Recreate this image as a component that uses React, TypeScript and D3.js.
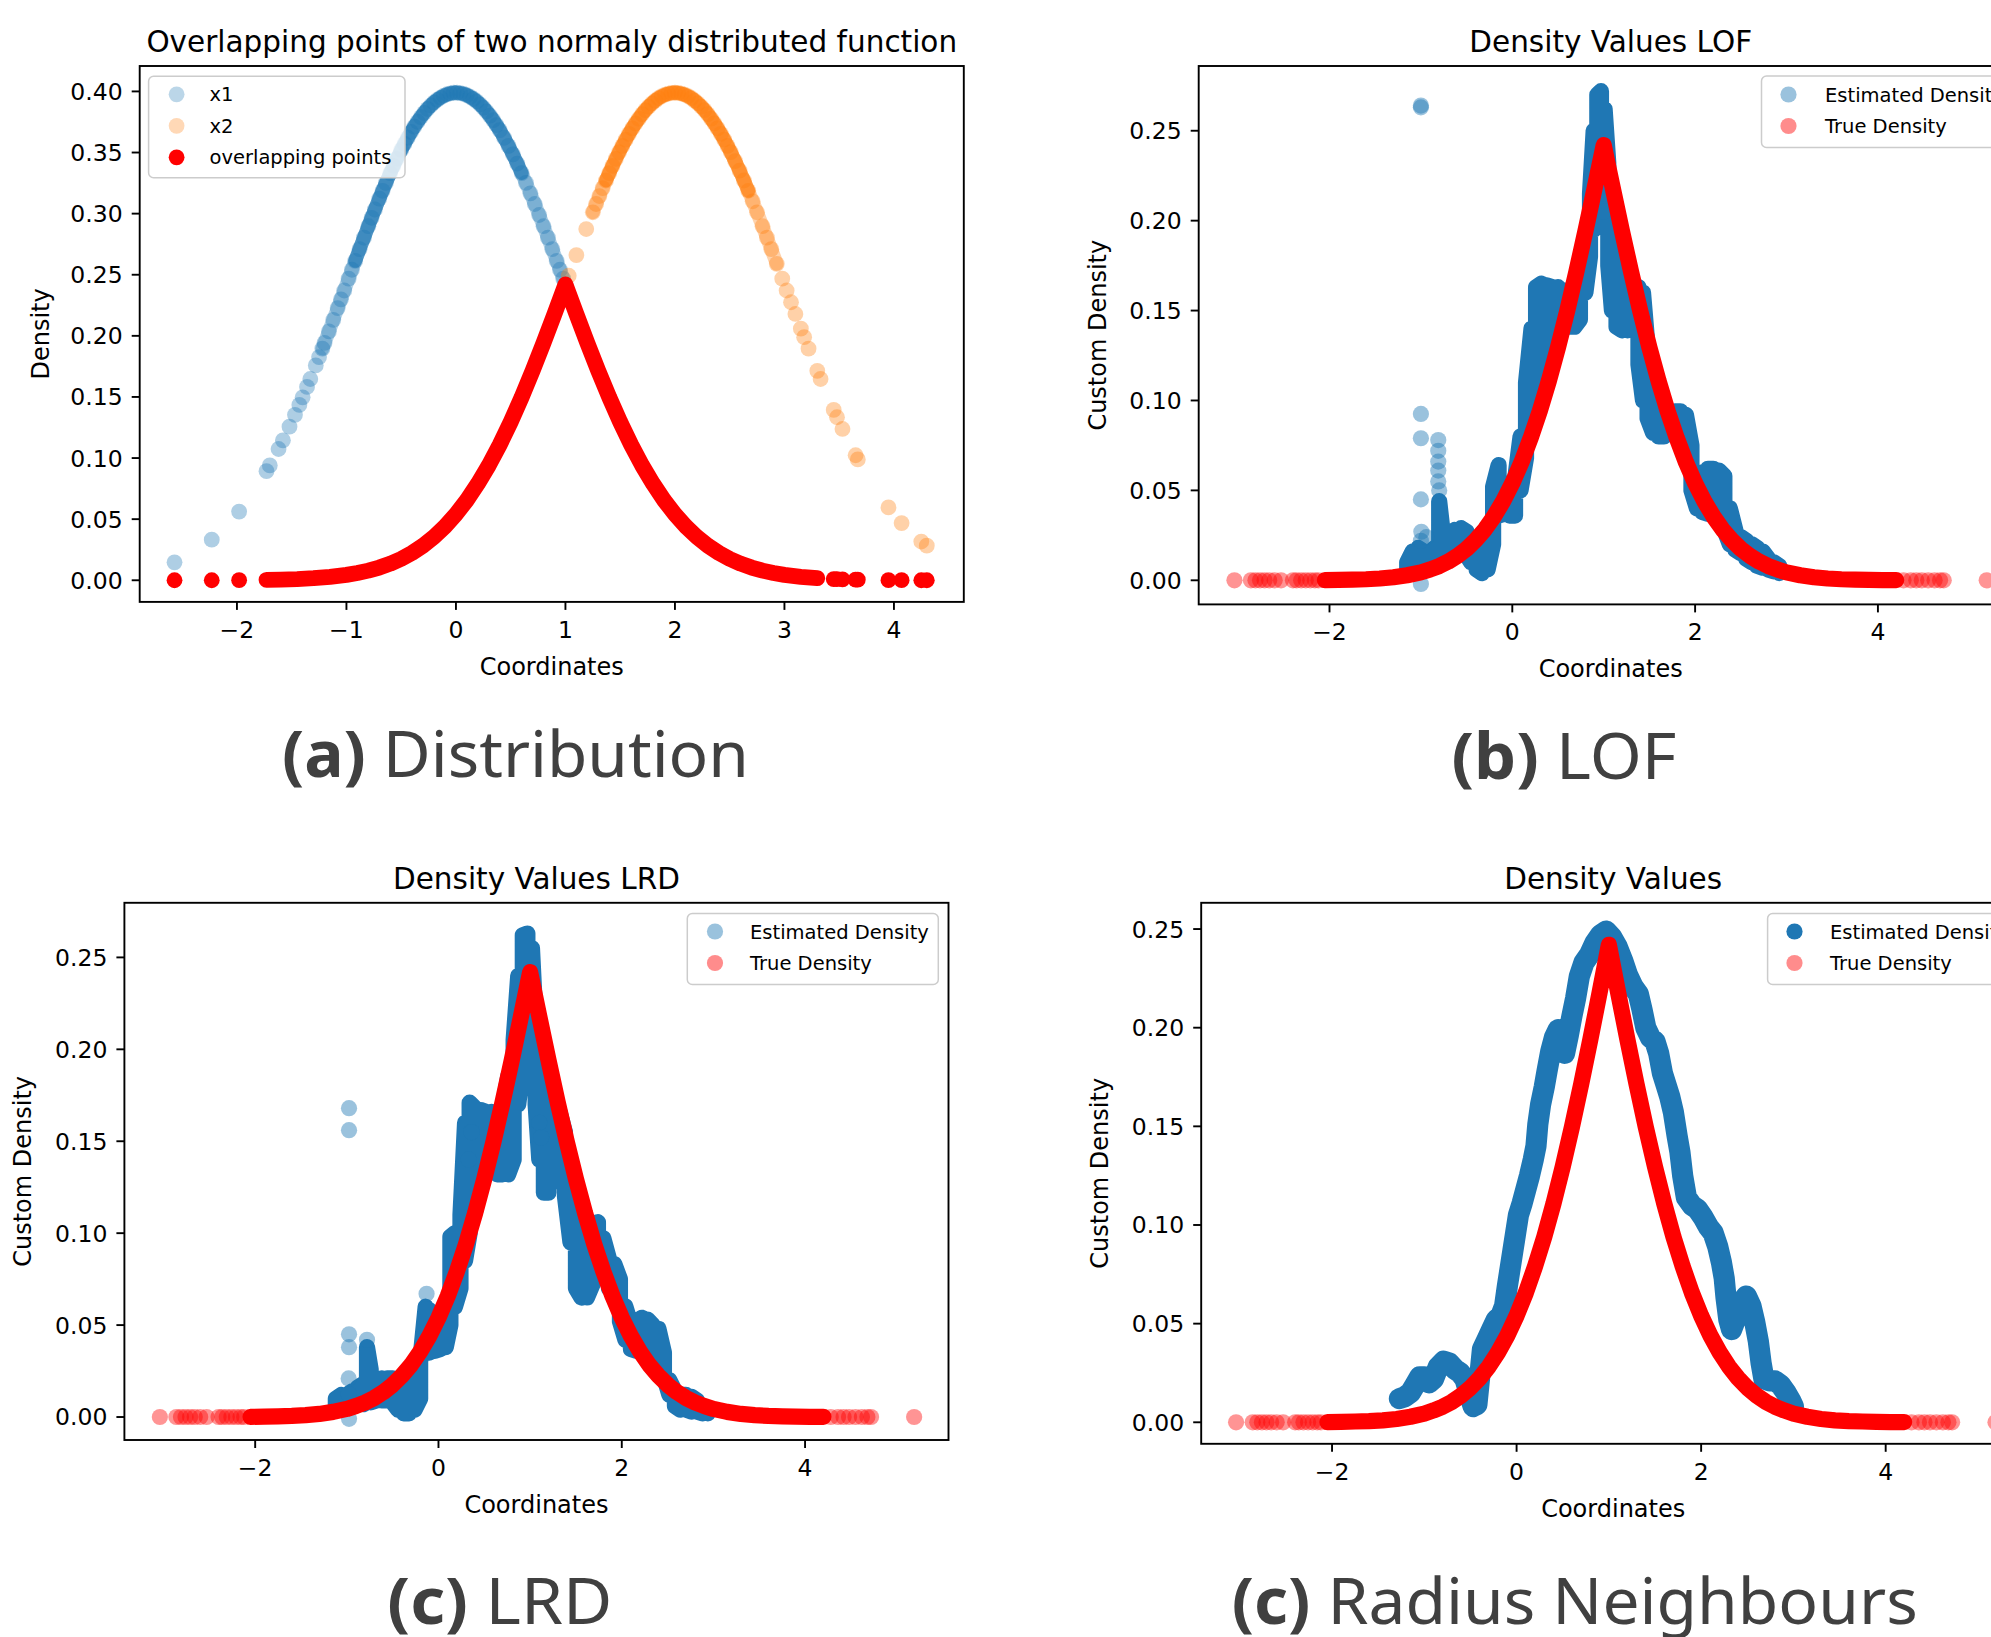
import React from "react";
import * as d3 from "d3";

// ---------- Panel (a): two normal distributions ----------
const X1_X = [-2.57,-2.23,-1.98,-1.73,-1.70,-1.62,-1.58,-1.52,-1.47,-1.43,-1.40,-1.36,-1.33,-1.28,-1.25,-1.22,-1.20,-1.16,-1.12,-1.08,-1.05,-1.02,-0.98,-0.95,-0.92,-0.88,-0.84,-0.80,-0.77,-0.74,-0.70,-0.67,-0.64,-0.60,-0.57,-0.54,-0.50,-0.47,-0.44,-0.41,-0.38,-0.35,-0.32,-0.29,-0.26,-0.23,-0.20,-0.17,-0.14,-0.11,-0.08,-0.05,-0.02,0.01,0.04,0.07,0.10,0.13,0.16,0.19,0.22,0.25,0.28,0.31,0.34,0.37,0.40,0.44,0.48,0.52,0.56,0.60,0.64,0.68,0.72,0.76,0.80,0.84,0.88,0.92,0.95,0.98,1.00];
const X1_Y = [0.0147,0.0332,0.0562,0.0893,0.0940,0.1074,0.1145,0.1257,0.1354,0.1435,0.1497,0.1582,0.1647,0.1758,0.1826,0.1895,0.1942,0.2036,0.2131,0.2227,0.2299,0.2371,0.2468,0.2541,0.2613,0.2709,0.2803,0.2897,0.2966,0.3034,0.3123,0.3187,0.3251,0.3332,0.3391,0.3448,0.3521,0.3572,0.3621,0.3668,0.3712,0.3752,0.3790,0.3825,0.3857,0.3885,0.3910,0.3932,0.3950,0.3965,0.3977,0.3984,0.3989,0.3989,0.3986,0.3980,0.3970,0.3956,0.3939,0.3918,0.3894,0.3867,0.3836,0.3802,0.3765,0.3725,0.3683,0.3621,0.3555,0.3485,0.3410,0.3332,0.3251,0.3166,0.3079,0.2989,0.2897,0.2803,0.2709,0.2613,0.2541,0.2468,0.2420];

const X2_X = [1.03,1.10,1.19,1.25,1.28,1.31,1.34,1.37,1.40,1.43,1.46,1.49,1.52,1.55,1.58,1.61,1.64,1.67,1.70,1.73,1.76,1.79,1.82,1.85,1.88,1.91,1.94,1.97,2.00,2.03,2.06,2.09,2.12,2.15,2.18,2.21,2.24,2.27,2.30,2.33,2.36,2.39,2.42,2.45,2.48,2.51,2.55,2.59,2.63,2.67,2.71,2.75,2.80,2.84,2.88,2.93,2.98,3.02,3.06,3.10,3.15,3.18,3.22,3.30,3.33,3.45,3.48,3.53,3.65,3.67,3.95,4.07,4.25,4.30];
const X2_Y = [0.2492,0.2661,0.2874,0.3011,0.3079,0.3144,0.3209,0.3271,0.3332,0.3391,0.3448,0.3503,0.3555,0.3605,0.3653,0.3697,0.3739,0.3778,0.3814,0.3847,0.3876,0.3902,0.3925,0.3945,0.3961,0.3973,0.3982,0.3988,0.3989,0.3988,0.3982,0.3973,0.3961,0.3945,0.3925,0.3902,0.3876,0.3847,0.3814,0.3778,0.3739,0.3697,0.3653,0.3605,0.3555,0.3503,0.3429,0.3352,0.3271,0.3187,0.3101,0.3011,0.2897,0.2803,0.2709,0.2589,0.2468,0.2371,0.2275,0.2179,0.2059,0.1989,0.1895,0.1714,0.1647,0.1394,0.1334,0.1238,0.1023,0.0989,0.0596,0.0468,0.0317,0.0283];

const OVL_X = [-1.73,-1.6,-1.45,-1.3,-1.15,-1.0,-0.9,-0.8,-0.7,-0.6,-0.5,-0.4,-0.3,-0.2,-0.1,0,0.1,0.2,0.3,0.4,0.5,0.6,0.7,0.8,0.9,1.0,1.1,1.2,1.3,1.4,1.5,1.6,1.7,1.8,1.9,2.0,2.1,2.2,2.3,2.4,2.5,2.6,2.7,2.8,2.9,3.0,3.15,3.3];
const OVL_Y = [0.0004,0.0006,0.0010,0.0017,0.0028,0.0044,0.0060,0.0079,0.0104,0.0136,0.0175,0.0224,0.0283,0.0355,0.0440,0.0540,0.0656,0.0790,0.0940,0.1109,0.1295,0.1497,0.1714,0.1942,0.2179,0.2420,0.2179,0.1942,0.1714,0.1497,0.1295,0.1109,0.0940,0.0790,0.0656,0.0540,0.0440,0.0355,0.0283,0.0224,0.0175,0.0136,0.0104,0.0079,0.0060,0.0044,0.0028,0.0017];
const OVL_SPARSE_X = [-2.57,-2.23,-1.98,3.45,3.48,3.53,3.65,3.67,3.95,4.07,4.25,4.30];
const OVL_SPARSE_Y = [0,0,0.0001,0.0010,0.0009,0.0008,0.0005,0.0005,0.0001,0.0001,0,0];

// ---------- True density (panels b, c, d) ----------
const TRUE_X = [-2.05,-1.9,-1.75,-1.6,-1.45,-1.3,-1.15,-1.0,-0.9,-0.8,-0.7,-0.6,-0.5,-0.4,-0.3,-0.2,-0.1,0,0.1,0.2,0.3,0.4,0.5,0.6,0.7,0.8,0.9,1.0,1.1,1.2,1.3,1.4,1.5,1.6,1.7,1.8,1.9,2.0,2.1,2.2,2.3,2.4,2.5,2.6,2.7,2.8,2.9,3.0,3.15,3.3,3.45,3.6,3.75,3.9,4.05,4.2];
const TRUE_Y = [0.0001,0.0002,0.0004,0.0006,0.0010,0.0017,0.0028,0.0044,0.0060,0.0079,0.0104,0.0136,0.0175,0.0224,0.0283,0.0355,0.0440,0.0540,0.0656,0.0790,0.0940,0.1109,0.1295,0.1497,0.1714,0.1942,0.2179,0.2420,0.2179,0.1942,0.1714,0.1497,0.1295,0.1109,0.0940,0.0790,0.0656,0.0540,0.0440,0.0355,0.0283,0.0224,0.0175,0.0136,0.0104,0.0079,0.0060,0.0044,0.0028,0.0017,0.0010,0.0006,0.0004,0.0002,0.0001,0.0001];
const TRUE_SPARSE_X = [-3.04,-2.86,-2.81,-2.76,-2.71,-2.66,-2.60,-2.53,-2.40,-2.36,-2.31,-2.26,-2.21,-2.16,-2.12,4.28,4.36,4.42,4.48,4.55,4.62,4.68,4.72,5.19];
const TRUE_SPARSE_Y = [0,0,0,0,0,0,0,0,0,0,0,0,0,0,0,0,0,0,0,0,0,0,0,0];

// ---------- LOF estimated density (panel b) ----------
const LOF_X = [-1.15,-1.09,-1.03,-0.97,-0.91,-0.85,-0.80,-0.76,-0.70,-0.63,-0.56,-0.50,-0.45,-0.39,-0.33,-0.27,-0.21,-0.15,-0.09,-0.03,0.03,0.09,0.15,0.21,0.26,0.32,0.38,0.44,0.50,0.56,0.62,0.68,0.74,0.80,0.85,0.89,0.93,0.97,1.01,1.05,1.09,1.14,1.20,1.26,1.32,1.38,1.43,1.48,1.54,1.60,1.66,1.72,1.78,1.84,1.90,1.96,2.02,2.08,2.14,2.20,2.26,2.32,2.38,2.44,2.50,2.56,2.62,2.68,2.74,2.80,2.86,2.92];
const LOF_LO = [0.006,0.007,0.008,0.009,0.010,0.010,0.015,0.013,0.013,0.014,0.016,0.014,0.010,0.006,0.004,0.006,0.020,0.036,0.037,0.036,0.036,0.050,0.068,0.085,0.098,0.110,0.120,0.135,0.142,0.141,0.141,0.141,0.145,0.160,0.180,0.195,0.200,0.200,0.200,0.175,0.150,0.141,0.139,0.139,0.140,0.120,0.100,0.090,0.082,0.080,0.080,0.082,0.085,0.082,0.072,0.050,0.040,0.038,0.037,0.036,0.034,0.028,0.020,0.017,0.015,0.012,0.010,0.008,0.007,0.006,0.005,0.004];
const LOF_HI = [0.010,0.016,0.018,0.016,0.015,0.018,0.044,0.026,0.026,0.028,0.029,0.027,0.022,0.019,0.018,0.022,0.052,0.064,0.054,0.052,0.056,0.080,0.110,0.140,0.163,0.165,0.164,0.163,0.163,0.160,0.160,0.165,0.175,0.190,0.215,0.250,0.270,0.272,0.262,0.232,0.200,0.180,0.165,0.160,0.158,0.163,0.160,0.130,0.100,0.092,0.090,0.092,0.094,0.094,0.092,0.075,0.055,0.060,0.062,0.062,0.061,0.058,0.040,0.028,0.024,0.022,0.020,0.018,0.016,0.012,0.010,0.008];
const LOF_OUT_X = [-1.0,-1.0,-1.0,-1.0,-1.0,-0.995,-1.0,-1.0,-0.81,-0.81,-0.81,-0.81,-0.81,-0.80,-0.94,1.0,0.99];
const LOF_OUT_Y = [0.263,0.264,0.0925,0.079,0.045,0.027,0.022,-0.002,0.078,0.072,0.066,0.061,0.055,0.050,0.024,0.205,0.215];

// ---------- LRD estimated density (panel c) ----------
const LRD_X = [-1.12,-1.06,-1.00,-0.94,-0.88,-0.82,-0.78,-0.74,-0.68,-0.62,-0.56,-0.50,-0.44,-0.38,-0.32,-0.26,-0.20,-0.14,-0.10,-0.04,0.02,0.08,0.13,0.18,0.24,0.29,0.34,0.40,0.46,0.52,0.58,0.64,0.70,0.76,0.82,0.87,0.92,0.97,1.02,1.06,1.10,1.15,1.20,1.26,1.32,1.38,1.44,1.50,1.56,1.62,1.68,1.74,1.80,1.86,1.92,1.98,2.04,2.10,2.16,2.22,2.28,2.34,2.40,2.46,2.52,2.58,2.64,2.70,2.76,2.82,2.88,2.94];
const LRD_LO = [0.004,0.005,0.005,0.006,0.007,0.007,0.008,0.008,0.009,0.009,0.009,0.008,0.004,0.002,0.002,0.004,0.010,0.036,0.035,0.036,0.037,0.038,0.050,0.060,0.070,0.085,0.100,0.112,0.125,0.133,0.140,0.132,0.132,0.132,0.140,0.170,0.190,0.190,0.190,0.170,0.140,0.122,0.122,0.128,0.130,0.120,0.095,0.070,0.065,0.065,0.072,0.077,0.077,0.070,0.068,0.052,0.042,0.037,0.036,0.036,0.036,0.036,0.033,0.022,0.012,0.006,0.004,0.004,0.003,0.003,0.002,0.002];
const LRD_HI = [0.010,0.012,0.012,0.014,0.016,0.018,0.038,0.026,0.020,0.021,0.021,0.021,0.019,0.017,0.018,0.022,0.030,0.060,0.058,0.052,0.052,0.055,0.098,0.100,0.110,0.160,0.171,0.168,0.167,0.166,0.166,0.165,0.168,0.185,0.205,0.240,0.262,0.263,0.255,0.215,0.195,0.180,0.170,0.168,0.166,0.155,0.120,0.110,0.105,0.104,0.105,0.106,0.097,0.086,0.083,0.075,0.060,0.050,0.052,0.054,0.053,0.050,0.048,0.035,0.020,0.014,0.012,0.012,0.011,0.009,0.006,0.004];
const LRD_OUT_X = [-0.976,-0.976,-0.976,-0.976,-0.98,-0.98,-0.976,-0.78,-0.13,1.10,1.12,0.36,0.33];
const LRD_OUT_Y = [0.168,0.156,0.045,0.038,0.021,0.0125,-0.001,0.042,0.067,0.160,0.152,0.155,0.140];

// ---------- Radius neighbours estimated density (panel d) ----------
const RN_X = [-1.27,-1.21,-1.15,-1.10,-1.05,-1.00,-0.95,-0.90,-0.85,-0.79,-0.73,-0.67,-0.61,-0.56,-0.51,-0.47,-0.43,-0.40,-0.37,-0.32,-0.27,-0.22,-0.17,-0.13,-0.10,-0.07,-0.04,-0.01,0.02,0.06,0.10,0.14,0.18,0.21,0.23,0.26,0.30,0.33,0.37,0.41,0.45,0.49,0.52,0.56,0.60,0.64,0.68,0.73,0.79,0.85,0.91,0.97,1.03,1.09,1.15,1.20,1.26,1.32,1.36,1.40,1.45,1.50,1.54,1.58,1.62,1.66,1.70,1.74,1.77,1.80,1.84,1.90,1.96,2.02,2.08,2.13,2.18,2.22,2.25,2.27,2.30,2.33,2.38,2.44,2.49,2.54,2.58,2.62,2.65,2.68,2.74,2.80,2.86,2.92,2.97,3.00];
const RN_Y = [0.012,0.013,0.015,0.019,0.023,0.023,0.020,0.022,0.028,0.031,0.030,0.027,0.025,0.022,0.014,0.008,0.009,0.023,0.037,0.042,0.047,0.052,0.054,0.059,0.069,0.078,0.087,0.096,0.105,0.111,0.118,0.125,0.133,0.140,0.151,0.161,0.170,0.178,0.188,0.195,0.199,0.192,0.187,0.196,0.206,0.215,0.226,0.233,0.237,0.243,0.247,0.249,0.246,0.241,0.234,0.227,0.221,0.217,0.209,0.200,0.195,0.193,0.187,0.177,0.171,0.165,0.157,0.145,0.137,0.125,0.114,0.110,0.108,0.104,0.099,0.096,0.089,0.081,0.073,0.063,0.052,0.047,0.053,0.061,0.064,0.059,0.051,0.041,0.030,0.022,0.021,0.021,0.019,0.015,0.011,0.008];

// ---------- Ticks ----------
const A_X_TICKS = [-2, -1, 0, 1, 2, 3, 4];
const A_Y_TICKS = [0, 0.05, 0.1, 0.15, 0.2, 0.25, 0.3, 0.35, 0.4];
const D_X_TICKS = [-2, 0, 2, 4];
const D_Y_TICKS = [0, 0.05, 0.1, 0.15, 0.2, 0.25];

const BLUE = "#1f77b4";
const ORANGE = "#ff7f0e";
const RED = "#ff0000";
const FONT = "DejaVu Sans, Verdana, sans-serif";

type Box = { x: number; y: number; w: number; h: number };

const fmtX = (t: number) => (t < 0 ? "\u2212" + Math.abs(t) : String(t));
const fmtY = (t: number) => t.toFixed(2);

const zip = (xs: number[], ys: number[]) => xs.map((x, i) => [x, ys[i]] as [number, number]);
const within = (pts: [number, number][], a: number, b: number) => pts.filter((p) => p[0] >= a && p[0] <= b);
const zigzag = (xs: number[], lo: number[], hi: number[]) => {
  const pts: [number, number][] = [];
  xs.forEach((x, i) => {
    if (i % 2 === 0) {
      pts.push([x, lo[i]], [x, hi[i]]);
    } else {
      pts.push([x, hi[i]], [x, lo[i]]);
    }
  });
  return pts;
};

function Frame(props: {
  id: string;
  box: Box;
  xs: d3.ScaleLinear<number, number>;
  ys: d3.ScaleLinear<number, number>;
  xTicks: number[];
  yTicks: number[];
  title: string;
  ylabel: string;
  ylabelX: number;
  children: React.ReactNode;
}) {
  const { id, box, xs, ys, xTicks, yTicks, title, ylabel, ylabelX } = props;
  const bottom = box.y + box.h;
  return (
    <g fontFamily={FONT}>
      <defs>
        <clipPath id={id}>
          <rect x={box.x} y={box.y} width={box.w} height={box.h} />
        </clipPath>
      </defs>
      <g clipPath={`url(#${id})`}>{props.children}</g>
      <rect x={box.x} y={box.y} width={box.w} height={box.h} fill="none" stroke="#000" strokeWidth={1.9} />
      {xTicks.map((t) => (
        <g key={"x" + t}>
          <line x1={xs(t)} x2={xs(t)} y1={bottom} y2={bottom + 8} stroke="#000" strokeWidth={1.9} />
          <text x={xs(t)} y={bottom + 36} textAnchor="middle" fontSize={23.5} fill="#000">
            {fmtX(t)}
          </text>
        </g>
      ))}
      {yTicks.map((t) => (
        <g key={"y" + t}>
          <line x1={box.x - 8} x2={box.x} y1={ys(t)} y2={ys(t)} stroke="#000" strokeWidth={1.9} />
          <text x={box.x - 17} y={ys(t)} dy="0.36em" textAnchor="end" fontSize={23.5} fill="#000">
            {fmtY(t)}
          </text>
        </g>
      ))}
      <text x={box.x + box.w / 2} y={box.y - 14} textAnchor="middle" fontSize={29.5} fill="#000">
        {title}
      </text>
      <text x={box.x + box.w / 2} y={bottom + 73} textAnchor="middle" fontSize={24} fill="#000">
        Coordinates
      </text>
      <text
        transform={`translate(${ylabelX},${box.y + box.h / 2}) rotate(-90)`}
        textAnchor="middle"
        fontSize={24}
        fill="#000"
      >
        {ylabel}
      </text>
    </g>
  );
}

function Legend(props: {
  x: number;
  y: number;
  w: number;
  h: number;
  markerX: number;
  textX: number;
  rows: number[];
  r: number;
  items: { label: string; color: string; opacity: number }[];
}) {
  const { x, y, w, h, markerX, textX, rows, r, items } = props;
  return (
    <g fontFamily={FONT}>
      <rect x={x} y={y} width={w} height={h} rx={5} fill="#fff" fillOpacity={0.8} stroke="#cccccc" strokeWidth={1.5} />
      {items.map((it, i) => (
        <g key={it.label}>
          <circle cx={markerX} cy={rows[i]} r={r} fill={it.color} fillOpacity={it.opacity} />
          <text x={textX} y={rows[i]} dy="0.36em" fontSize={19.5} fill="#000">
            {it.label}
          </text>
        </g>
      ))}
    </g>
  );
}

function Caption(props: { x: number; y: number; len: number; tag: string; text: string }) {
  return (
    <text
      x={props.x}
      y={props.y}
      textLength={props.len}
      lengthAdjust="spacingAndGlyphs"
      fontFamily="Noto Sans, Open Sans, sans-serif"
      fontSize={64}
      fill="#404040"
    >
      <tspan fontWeight="bold">{props.tag}</tspan>
      {" " + props.text}
    </text>
  );
}

function TruePoints(props: { xs: any; ys: any; r: number }) {
  const { xs, ys, r } = props;
  const line = d3.line<[number, number]>().x((d) => xs(d[0])).y((d) => ys(d[1]));
  return (
    <g>
      <path
        d={line(zip(TRUE_X, TRUE_Y)) || ""}
        fill="none"
        stroke={RED}
        strokeWidth={2 * r}
        strokeLinejoin="round"
        strokeLinecap="round"
      />
      {TRUE_SPARSE_X.map((x, i) => (
        <circle key={i} cx={xs(x)} cy={ys(TRUE_SPARSE_Y[i])} r={r} fill={RED} fillOpacity={0.42} />
      ))}
    </g>
  );
}

export default function App() {
  const RA = 7.9;
  const RB = 8.1;

  // Panel a
  const boxA: Box = { x: 139.7, y: 66, w: 824.1, h: 535.9 };
  const xa = d3.scaleLinear().domain([-2.888, 4.638]).range([boxA.x, boxA.x + boxA.w]);
  const ya = d3.scaleLinear().domain([-0.0177, 0.4208]).range([boxA.y + boxA.h, boxA.y]);
  const lineA = d3.line<[number, number]>().x((d) => xa(d[0])).y((d) => ya(d[1]));
  const x1pts = zip(X1_X, X1_Y);
  const x2pts = zip(X2_X, X2_Y);

  // Panel b
  const boxB: Box = { x: 1198.7, y: 66, w: 824, h: 538.4 };
  const xb = d3.scaleLinear().domain([-3.431, 5.584]).range([boxB.x, boxB.x + boxB.w]);
  const yb = d3.scaleLinear().domain([-0.0134, 0.286]).range([boxB.y + boxB.h, boxB.y]);
  const lineB = d3.line<[number, number]>().x((d) => xb(d[0])).y((d) => yb(d[1]));

  // Panel c
  const boxC: Box = { x: 124.4, y: 902.8, w: 824.1, h: 537.2 };
  const xc = d3.scaleLinear().domain([-3.427, 5.565]).range([boxC.x, boxC.x + boxC.w]);
  const yc = d3.scaleLinear().domain([-0.0125, 0.2797]).range([boxC.y + boxC.h, boxC.y]);
  const lineC = d3.line<[number, number]>().x((d) => xc(d[0])).y((d) => yc(d[1]));

  // Panel d
  const boxD: Box = { x: 1201.2, y: 902.8, w: 824, h: 541 };
  const xd = d3.scaleLinear().domain([-3.418, 5.512]).range([boxD.x, boxD.x + boxD.w]);
  const yd = d3.scaleLinear().domain([-0.0109, 0.2633]).range([boxD.y + boxD.h, boxD.y]);
  const lineD = d3.line<[number, number]>().x((d) => xd(d[0])).y((d) => yd(d[1]));

  const thick = (r: number) => ({
    fill: "none",
    strokeWidth: 2 * r,
    strokeLinejoin: "round" as const,
    strokeLinecap: "round" as const,
  });

  return (
    <svg
      width={1991}
      height={1637}
      viewBox="0 0 1991 1637"
      style={{ position: "absolute", left: 0, top: 0, display: "block", background: "#fff" }}
    >
      <rect x={0} y={0} width={1991} height={1637} fill="#fff" />

      {/* (a) */}
      <Frame
        id="clipA"
        box={boxA}
        xs={xa}
        ys={ya}
        xTicks={A_X_TICKS}
        yTicks={A_Y_TICKS}
        title="Overlapping points of two normaly distributed function"
        ylabel="Density"
        ylabelX={49}
      >
        <path d={lineA(within(x1pts, -1.22, 1.0)) || ""} stroke={BLUE} strokeOpacity={0.35} {...thick(RA - 1)} />
        <path d={lineA(within(x1pts, -0.92, 0.6)) || ""} stroke={BLUE} strokeOpacity={0.65} {...thick(RA - 1)} />
        {X1_X.map((x, i) => (
          <circle key={"a1" + i} cx={xa(x)} cy={ya(X1_Y[i])} r={RA} fill={BLUE} fillOpacity={0.36} />
        ))}
        <path d={lineA(within(x2pts, 1.22, 2.95)) || ""} stroke={ORANGE} strokeOpacity={0.35} {...thick(RA - 1)} />
        <path d={lineA(within(x2pts, 1.35, 2.7)) || ""} stroke={ORANGE} strokeOpacity={0.65} {...thick(RA - 1)} />
        {X2_X.map((x, i) => (
          <circle key={"a2" + i} cx={xa(x)} cy={ya(X2_Y[i])} r={RA} fill={ORANGE} fillOpacity={0.36} />
        ))}
        <path d={lineA(zip(OVL_X, OVL_Y)) || ""} stroke={RED} {...thick(RA)} />
        {OVL_SPARSE_X.map((x, i) => (
          <circle key={"ao" + i} cx={xa(x)} cy={ya(OVL_SPARSE_Y[i])} r={RA} fill={RED} />
        ))}
      </Frame>
      <Legend
        x={148.6}
        y={76.2}
        w={256.4}
        h={101.6}
        markerX={176.6}
        textX={209.5}
        rows={[94.3, 125.8, 157.3]}
        r={RA}
        items={[
          { label: "x1", color: BLUE, opacity: 0.3 },
          { label: "x2", color: ORANGE, opacity: 0.3 },
          { label: "overlapping points", color: RED, opacity: 1 },
        ]}
      />

      {/* (b) LOF */}
      <Frame
        id="clipB"
        box={boxB}
        xs={xb}
        ys={yb}
        xTicks={D_X_TICKS}
        yTicks={D_Y_TICKS}
        title="Density Values LOF"
        ylabel="Custom Density"
        ylabelX={1106}
      >
        <path d={lineB(zigzag(LOF_X, LOF_LO, LOF_HI)) || ""} stroke={BLUE} {...thick(RB)} />
        {LOF_OUT_X.map((x, i) => (
          <circle key={"bo" + i} cx={xb(x)} cy={yb(LOF_OUT_Y[i])} r={RB} fill={BLUE} fillOpacity={0.45} />
        ))}
        <TruePoints xs={xb} ys={yb} r={RB} />
      </Frame>
      <Legend
        x={1761.5}
        y={76}
        w={262}
        h={71.5}
        markerX={1788.5}
        textX={1825}
        rows={[94.5, 126]}
        r={RB}
        items={[
          { label: "Estimated Density", color: BLUE, opacity: 0.45 },
          { label: "True Density", color: RED, opacity: 0.45 },
        ]}
      />

      {/* (c) LRD */}
      <Frame
        id="clipC"
        box={boxC}
        xs={xc}
        ys={yc}
        xTicks={D_X_TICKS}
        yTicks={D_Y_TICKS}
        title="Density Values LRD"
        ylabel="Custom Density"
        ylabelX={30.5}
      >
        <path d={lineC(zigzag(LRD_X, LRD_LO, LRD_HI)) || ""} stroke={BLUE} {...thick(RB)} />
        {LRD_OUT_X.map((x, i) => (
          <circle key={"co" + i} cx={xc(x)} cy={yc(LRD_OUT_Y[i])} r={RB} fill={BLUE} fillOpacity={0.45} />
        ))}
        <TruePoints xs={xc} ys={yc} r={RB} />
      </Frame>
      <Legend
        x={687.3}
        y={913.5}
        w={251}
        h={71}
        markerX={715}
        textX={750}
        rows={[931.5, 963]}
        r={RB}
        items={[
          { label: "Estimated Density", color: BLUE, opacity: 0.45 },
          { label: "True Density", color: RED, opacity: 0.45 },
        ]}
      />

      {/* (d) Radius neighbours */}
      <Frame
        id="clipD"
        box={boxD}
        xs={xd}
        ys={yd}
        xTicks={D_X_TICKS}
        yTicks={D_Y_TICKS}
        title="Density Values"
        ylabel="Custom Density"
        ylabelX={1107.5}
      >
        <path d={lineD(zip(RN_X, RN_Y)) || ""} stroke={BLUE} {...thick(RB + 2.5)} />
        <TruePoints xs={xd} ys={yd} r={RB} />
      </Frame>
      <Legend
        x={1767.6}
        y={913.5}
        w={262}
        h={71}
        markerX={1794.5}
        textX={1830}
        rows={[931.5, 963]}
        r={RB}
        items={[
          { label: "Estimated Density", color: BLUE, opacity: 1 },
          { label: "True Density", color: RED, opacity: 0.45 },
        ]}
      />

      {/* Captions */}
      <Caption x={281.9} y={777} len={467} tag="(a)" text="Distribution" />
      <Caption x={1451.4} y={779} len={225} tag="(b)" text="LOF" />
      <Caption x={387.3} y={1624} len={225} tag="(c)" text="LRD" />
      <Caption x={1231.7} y={1624} len={686} tag="(c)" text="Radius Neighbours" />
    </svg>
  );
}
